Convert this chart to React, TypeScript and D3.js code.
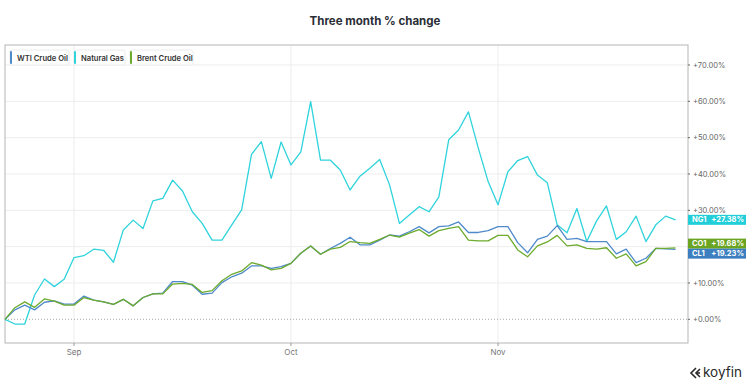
import React from 'react'
import * as d3 from 'd3'

// three month % change, one value per weekday
const wti = [
  0, 2.6, 3.9, 2.6, 4.7, 5.1, 4.2, 4.2, 6.4, 5.3, 4.8, 4.1, 5.5, 3.7, 6.0, 7.0, 7.2, 10.4, 10.4, 9.4,
  6.9, 7.2, 10.1, 11.7, 12.7, 14.7, 14.7, 14.0, 14.5, 15.4, 18.2, 20.2, 17.9, 19.5, 20.9, 22.6, 20.5, 20.5, 21.8, 23.2,
  22.9, 24.1, 25.5, 23.8, 25.5, 25.7, 26.8, 23.9, 23.9, 24.4, 25.5, 25.5, 21.1, 18.3, 22.0, 22.9, 25.8, 22.0, 22.3, 21.4,
  21.4, 21.4, 18.0, 19.3, 15.6, 16.8, 19.5, 19.4, 19.23,
]
const natGas = [
  0, -1.3, -1.3, 6.7, 11.1, 9.0, 11.0, 17.0, 17.5, 19.3, 19.0, 15.7, 24.6, 27.3, 25.0, 32.6, 33.3, 38.3, 35.3, 29.6,
  26.4, 21.8, 21.8, 26.0, 30.1, 45.4, 48.9, 38.8, 48.8, 42.5, 46.1, 59.9, 43.8, 43.8, 41.1, 35.6, 39.4, 41.6, 44.0, 37.0,
  26.4, 28.7, 31.0, 29.6, 33.7, 49.4, 52.1, 57.1, 47.1, 37.9, 31.5, 40.6, 43.7, 44.8, 39.7, 37.6, 26.0, 23.8, 30.5, 21.4,
  27.1, 31.2, 22.0, 24.1, 28.4, 21.4, 26.0, 28.4, 27.38,
]
const brent = [
  0, 3.2, 4.8, 3.3, 5.6, 5.0, 3.9, 3.9, 6.0, 5.3, 4.8, 4.1, 5.5, 3.7, 6.0, 7.0, 7.0, 9.7, 9.9, 9.6,
  7.4, 7.9, 10.6, 12.4, 13.3, 15.6, 14.9, 13.6, 14.0, 15.4, 18.2, 20.2, 17.9, 19.3, 19.8, 21.4, 21.1, 20.9, 22.0, 23.2,
  22.6, 23.7, 24.7, 22.9, 24.4, 25.0, 25.5, 21.8, 21.6, 21.6, 23.1, 23.1, 19.1, 17.2, 20.2, 21.3, 23.1, 20.2, 20.5, 19.5,
  19.3, 19.7, 16.8, 18.0, 14.7, 15.9, 19.5, 19.5, 19.68,
]

const monthLabels = ['Sep', 'Oct', 'Nov']
const monthIndex = [7, 29, 50]
const yTicks = [0, 10, 20, 30, 40, 50, 60, 70]

const seriesNames = ['WTI Crude Oil', 'Natural Gas', 'Brent Crude Oil']
const seriesTickers = ['CL1', 'NG1', 'CO1']
const seriesColors = ['#4f8aca', '#2fd3dc', '#6cab2c']
const boxColors = ['#3c7fc0', '#22cfd8', '#6aa421']
const seriesData = [wti, natGas, brent]

const W = 750
const H = 387
const plot = { left: 5, right: 688, top: 45, bottom: 343 }
const font = 'Inter, "Noto Sans", sans-serif'

export default function App() {
  const x = d3.scaleLinear().domain([0, wti.length - 1]).range([plot.left, 675.5])
  const y = d3.scaleLinear().domain([-6.52, 75.5]).range([plot.bottom, plot.top])

  const line = d3.line<number>()
    .x((d, i) => x(i))
    .y(d => y(d))

  // end labels, pushed apart when they overlap
  const boxH = 10
  let ends = seriesData.map((s, i) => ({ i, val: s[s.length - 1], cy: y(s[s.length - 1]) }))
  ends.sort((a, b) => a.cy - b.cy)
  for (let k = 1; k < ends.length; k++) {
    const a = ends[k - 1], b = ends[k]
    if (b.cy - a.cy < boxH) {
      const mid = (a.cy + b.cy) / 2
      a.cy = mid - boxH / 2
      b.cy = mid + boxH / 2
    }
  }
  // axis labels sitting under an end label box are hidden, as in koyfin
  const covered = (t: number) => ends.some(e => Math.abs(y(t) - e.cy) < boxH / 2 + 3)

  const legendX = [10, 74, 130]
  const legendW = [59, 51, 63]

  const drawOrder = [1, 0, 2]

  return (
    <svg width={W} height={H} style={{ position: 'absolute', left: 0, top: 0, background: '#fff' }}
      fontFamily={font}>
      <text x={375} y={25} textAnchor="middle" fontSize={11.5} fontWeight={700} fill="#2a2d35">
        Three month % change
      </text>

      {/* grid */}
      {yTicks.map(t => t === 0 ? null : (
        <line key={t} x1={plot.left} x2={plot.right} y1={y(t)} y2={y(t)} stroke="#ededed" />
      ))}
      {monthIndex.map(m => (
        <line key={m} x1={x(m)} x2={x(m)} y1={plot.top} y2={plot.bottom} stroke="#ededed" />
      ))}
      <line x1={plot.left} x2={plot.right} y1={y(0)} y2={y(0)} stroke="#a8a8a8" strokeDasharray="1,2" />

      <rect x={plot.left} y={plot.top} width={plot.right - plot.left} height={plot.bottom - plot.top}
        fill="none" stroke="#b5b5b5" />

      {/* lines */}
      {drawOrder.map(i => (
        <path key={i} d={line(seriesData[i]) || ''} fill="none" stroke={seriesColors[i]}
          strokeWidth={1.3} strokeLinejoin="round" />
      ))}

      {/* legend */}
      {seriesNames.map((n, i) => (
        <g key={n} transform={`translate(${legendX[i]},50)`}>
          <rect x={0} y={0} width={legendW[i]} height={15} rx={2} fill="#fff" stroke="#ececec" />
          <rect x={0} y={1} width={2} height={13} rx={1} fill={seriesColors[i]} />
          <text x={7} y={10.5} fontSize={7.6} fontWeight={600} fill="#333">{n}</text>
        </g>
      ))}

      {/* y axis */}
      {yTicks.map(t => (
        <g key={t} transform={`translate(${plot.right},${y(t)})`}>
          <line x1={0} x2={2} stroke="#666" />
          {!covered(t) && (
            <text x={5} dy="0.35em" fontSize={7.5} fill="#666">{d3.format('+.2f')(t)}%</text>
          )}
        </g>
      ))}

      {/* x axis */}
      {monthIndex.map((m, k) => (
        <g key={m} transform={`translate(${x(m)},${plot.bottom})`}>
          <line y1={0} y2={3} stroke="#999" />
          <text y={12} textAnchor="middle" fontSize={8} fill="#777">{monthLabels[k]}</text>
        </g>
      ))}

      {/* end labels */}
      {ends.map(e => (
        <g key={e.i} transform={`translate(${plot.right},${e.cy - boxH / 2})`}>
          <rect width={58} height={boxH} fill={boxColors[e.i]} />
          <text x={4} y={7.6} fontSize={7.5} fontWeight={700} fill="#fff">{seriesTickers[e.i]}</text>
          <text x={56} y={7.6} fontSize={7.5} fontWeight={700} fill="#fff" textAnchor="end">
            {d3.format('+.2f')(e.val)}%
          </text>
        </g>
      ))}

      {/* koyfin mark */}
      <g transform="translate(690,368)" fill="none" stroke="#2a2a2a" strokeWidth={1.6}>
        <path d="M6,0 L1,5 L6,10" />
        <path d="M10,1 L6,5 L10,9" />
        <path d="M6,5 L10,5" />
      </g>
      <text x={703} y={377} fontSize={13.5} fill="#2a2a2a">koyfin</text>
    </svg>
  )
}
